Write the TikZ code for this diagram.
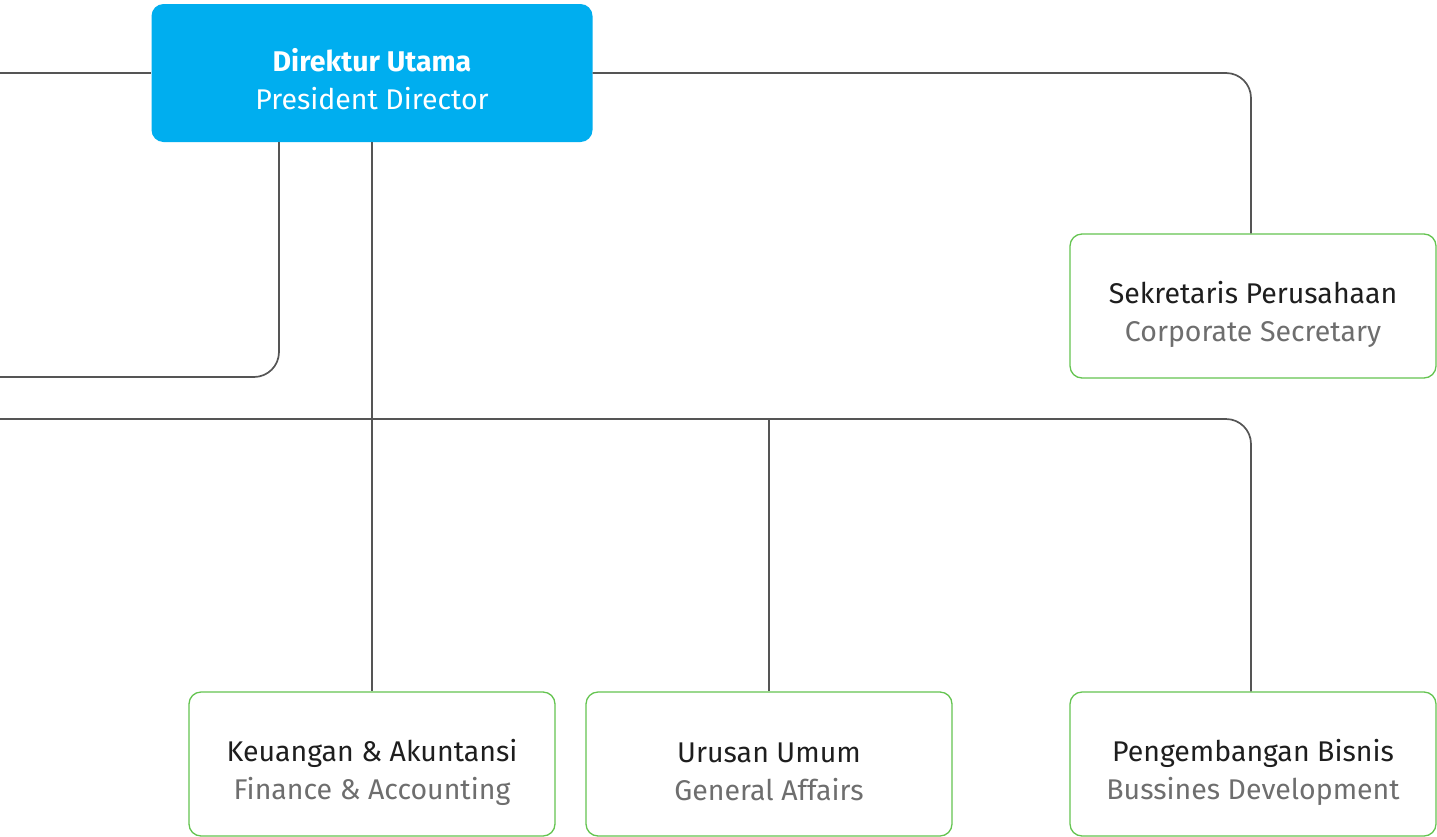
\documentclass[tikz,border=0pt]{standalone}
\usepackage{fontspec}
\setmainfont{Fira Sans}
\definecolor{dirblue}{RGB}{0,174,239}
\definecolor{boxgreen}{RGB}{100,196,80}
\definecolor{linegray}{RGB}{85,85,85}
\definecolor{subgray}{RGB}{110,110,110}
\definecolor{titleblack}{RGB}{30,30,30}
\begin{document}
\begin{tikzpicture}[x=1pt,y=-1pt,
  unitbox/.style={draw=boxgreen, line width=1.3pt, rounded corners=12pt, fill=white,
    minimum width=366pt, minimum height=144pt, inner sep=0pt},
  dirbox/.style={fill=dirblue, rounded corners=12pt, minimum width=441pt, minimum height=138pt,
    inner sep=0pt},
  unitlbl/.style={align=center, inner sep=0pt, text=titleblack, font=\fontsize{28.5}{38}\selectfont, yshift=-8pt},
  dirlbl/.style={align=center, inner sep=0pt, text=white, font=\fontsize{28.5}{38}\selectfont, yshift=-6pt},
  conn/.style={draw=linegray, line width=1.7pt}]
\useasboundingbox (0,0) rectangle (1437,836);
\fill[white] (0,0) rectangle (1437,836);
\coordinate (lft1) at (0,73);
\coordinate (lft2) at (0,377);
\coordinate (lft3) at (0,419);
\coordinate (c1) at (279,377);
\coordinate (c2) at (1251,73);
\coordinate (c3) at (1251,419);
\node[dirbox] (dir) at (372,73) {};
\node[dirlbl] (dirT) at (dir.center) {\textbf{Direktur Utama}\\President Director};
\node[unitbox] (sek) at (1253,306) {};
\node[unitlbl] (sekT) at (sek.center) {Sekretaris Perusahaan\\\color{subgray}Corporate Secretary};
\node[unitbox] (keu) at (372,764) {};
\node[unitlbl] (keuT) at (keu.center) {Keuangan \& Akuntansi\\\color{subgray}Finance \& Accounting};
\node[unitbox] (uru) at (769,764) {};
\node[unitlbl] (uruT) at (uru.center) {Urusan Umum\\\color{subgray}General Affairs};
\node[unitbox] (bis) at (1253,764) {};
\node[unitlbl] (bisT) at (bis.center) {Pengembangan Bisnis\\\color{subgray}Bussines Development};
\draw[conn] (lft1) -- (dir.west);
\draw[conn, rounded corners=25pt] (dir.east) -- (c2) -- (c2 |- sek.north);
\draw[conn, rounded corners=25pt] (dir.south -| c1) -- (c1) -- (lft2);
\draw[conn] (dir.south) -- (dir.south |- keu.north);
\draw[conn, rounded corners=25pt] (lft3) -- (c3) -- (c3 |- bis.north);
\draw[conn] (uru.north |- lft3) -- (uru.north);
\end{tikzpicture}
\end{document}
